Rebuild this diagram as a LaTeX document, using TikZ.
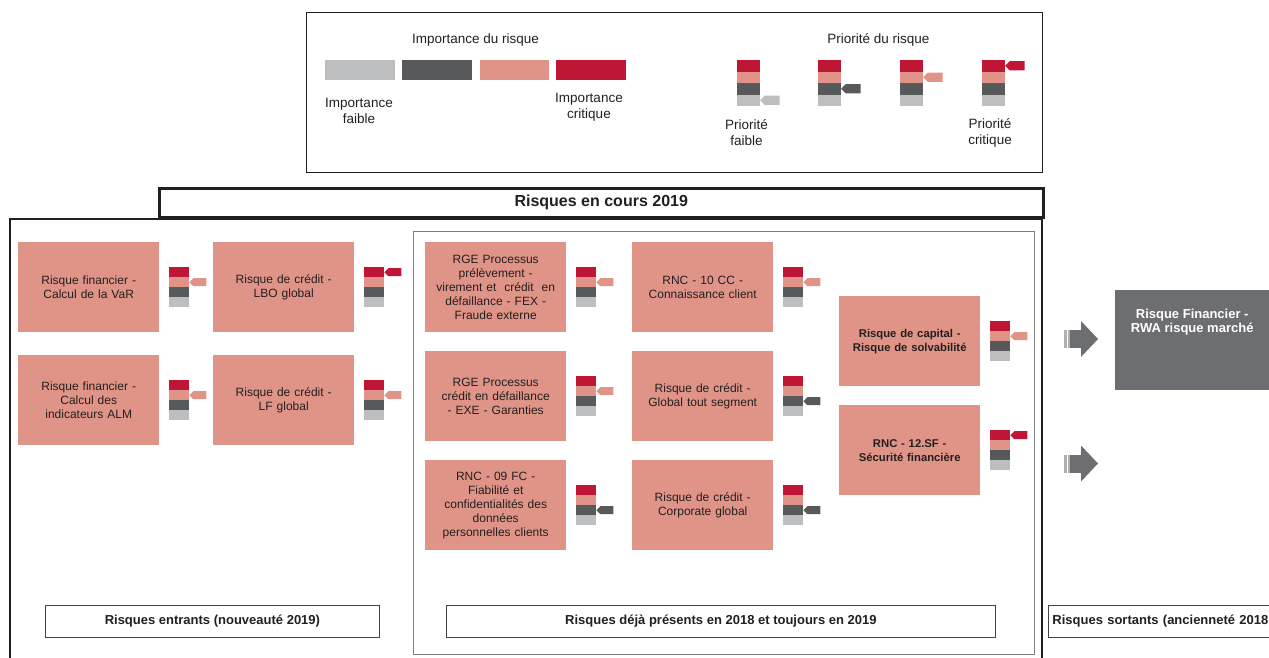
\documentclass[tikz,border=0pt]{standalone}
\usepackage{fontspec}
\setmainfont{Liberation Sans}

\definecolor{riskred}{HTML}{BE1634}
\definecolor{risksalmon}{HTML}{E09488}
\definecolor{riskdark}{HTML}{58595B}
\definecolor{riskgray}{HTML}{BCBEC0}
\definecolor{riskexit}{HTML}{6D6E71}
\definecolor{risktext}{HTML}{231F20}

\tikzset{
    riskbox/.style={fill=risksalmon, text=risktext, anchor=north west, minimum width=141pt, minimum height=90pt, text width=137pt, inner sep=0pt, align=center, font=\fontsize{12}{14}\selectfont},
    strongbox/.style={riskbox, font=\fontsize{11.3}{14}\selectfont\bfseries},
    legendtext/.style={text=risktext, align=center, font=\fontsize{13.5}{16}\selectfont},
    tagbox/.style={draw=risktext!85, line width=0.8pt, anchor=north west, minimum height=32pt, inner sep=0pt, text=risktext, font=\fontsize{13}{15}\selectfont\bfseries},
}

% stack of the four levels, with the flag on level #3 (0 = top)
\newcommand{\prio}[4][1]{%
    \begin{scope}[shift={(#2)}, scale=#1]
        \fill[riskred] (10,-20) rectangle (30,-10);
        \fill[risksalmon] (10,-10) rectangle (30,0);
        \fill[riskdark] (10,0) rectangle (30,10);
        \fill[riskgray] (10,10) rectangle (30,20);
        \fill[#4] (30,{#3*10-15}) -- ++(4,-4) -- ++(13,0) -- ++(0,8) -- ++(-13,0) -- cycle;
    \end{scope}}

\newcommand{\exitarrow}[1]{%
    \begin{scope}[shift={(#1)}]
        \fill[riskexit] (0,-9) rectangle (17,9);
        \fill[riskexit] (17,-18) -- (34,0) -- (17,18) -- cycle;
        \fill[riskexit!55!white] (0,-9) rectangle (6,9);
        \fill[white] (2.5,-9) rectangle (3.5,9);
    \end{scope}}

\begin{document}
\begin{tikzpicture}[x=1pt, y=-1pt]
    \useasboundingbox (0,0) rectangle (1269,657);
    \clip (0,0) rectangle (1269,657);

    % legend
    \node[draw=risktext, line width=1pt, anchor=north west, minimum width=736pt, minimum height=160pt, inner sep=0pt] (legend) at (306,12) {};
    \node[legendtext] (imptitle) at (475.5,40) {Importance du risque};
    \fill[riskgray] (325,60) rectangle (395,80);
    \fill[riskdark] (402,60) rectangle (472,80);
    \fill[risksalmon] (480,60) rectangle (549,80);
    \fill[riskred] (556,60) rectangle (626,80);
    \node[legendtext] (impfaible) at (359,111) {Importance\\faible};
    \node[legendtext] (impcritique) at (589,107) {Importance\\critique};

    \node[legendtext] (priotitle) at (878.5,40) {Priorité du risque};
    \coordinate (p1) at (725.5,83);
    \coordinate (p2) at (806.5,83);
    \coordinate (p3) at (888.5,83);
    \coordinate (p4) at (970.5,83);
    \prio[1.15]{p1}{3}{riskgray}
    \prio[1.15]{p2}{2}{riskdark}
    \prio[1.15]{p3}{1}{risksalmon}
    \prio[1.15]{p4}{0}{riskred}
    \node[legendtext] (priofaible) at (746.5,133) {Priorité\\faible};
    \node[legendtext] (priocritique) at (990,133) {Priorité\\critique};

    % frames
    \node[draw=risktext, line width=2.5pt, anchor=north west, minimum width=884pt, minimum height=29pt, inner sep=0pt, text=risktext, font=\fontsize{16}{19}\selectfont\bfseries] (cours) at (158,187) {Risques en cours 2019};
    \draw[risktext, line width=2pt] (10,660) |- (cours.south) -| (1042,660);
    \node[draw=gray, line width=1pt, anchor=north west, minimum width=621pt, minimum height=423pt, inner sep=0pt] (present) at (413,231) {};

    % risques entrants
    \node[riskbox] (var) at (18,242) {Risque financier -\\Calcul de la VaR};
    \node[riskbox] (lbo) at (213,242) {Risque de crédit -\\LBO global};
    \node[riskbox] (alm) at (18,355) {Risque financier -\\Calcul des\\indicateurs ALM};
    \node[riskbox] (lf) at (213,355) {Risque de crédit -\\LF global};

    % risques deja presents
    \node[riskbox] (fex) at (425,242) {RGE Processus\\prélèvement -\\virement et\ \ crédit\ \ en\\défaillance - FEX -\\Fraude externe};
    \node[riskbox] (exe) at (425,351) {RGE Processus\\crédit en défaillance\\- EXE - Garanties};
    \node[riskbox] (fc) at (425,460) {RNC - 09 FC -\\Fiabilité et\\confidentialités des\\données\\personnelles clients};
    \node[riskbox] (cc) at (632,242) {RNC - 10 CC -\\Connaissance client};
    \node[riskbox] (seg) at (632,351) {Risque de crédit -\\Global tout segment};
    \node[riskbox] (corp) at (632,460) {Risque de crédit -\\Corporate global};
    \node[strongbox] (capital) at (839,296) {Risque de capital -\\Risque de solvabilité};
    \node[strongbox] (sf) at (839,405) {RNC - 12.SF -\\Sécurité financière};

    \prio{var.east}{1}{risksalmon}
    \prio{lbo.east}{0}{riskred}
    \prio{alm.east}{1}{risksalmon}
    \prio{lf.east}{1}{risksalmon}
    \prio{fex.east}{1}{risksalmon}
    \prio{exe.east}{1}{risksalmon}
    \prio{fc.east}{2}{riskdark}
    \prio{cc.east}{1}{risksalmon}
    \prio{seg.east}{2}{riskdark}
    \prio{corp.east}{2}{riskdark}
    \prio{capital.east}{1}{risksalmon}
    \prio{sf.east}{0}{riskred}

    % risques sortants
    \coordinate (exit1) at (1064,339);
    \coordinate (exit2) at (1064,463.5);
    \exitarrow{exit1}
    \exitarrow{exit2}
    \node[fill=riskexit, anchor=north west, minimum width=154pt, minimum height=100pt, inner sep=0pt,
        label={[text=white, align=center, font=\fontsize{13}{14}\selectfont\bfseries, anchor=north, yshift=-16pt]north:{Risque Financier -\\RWA risque marché}}] (rwa) at (1115,290) {};

    % bottom labels
    \node[tagbox, minimum width=334pt] (entrants) at (45,605) {Risques entrants (nouveauté 2019)};
    \node[tagbox, minimum width=549pt] (presents) at (446,605) {Risques déjà présents en 2018 et toujours en 2019};
    \node[tagbox, text width=230pt, align=left, inner xsep=4pt] (sortants) at (1048,605) {Risques sortants (ancienneté 2018};
\end{tikzpicture}
\end{document}
